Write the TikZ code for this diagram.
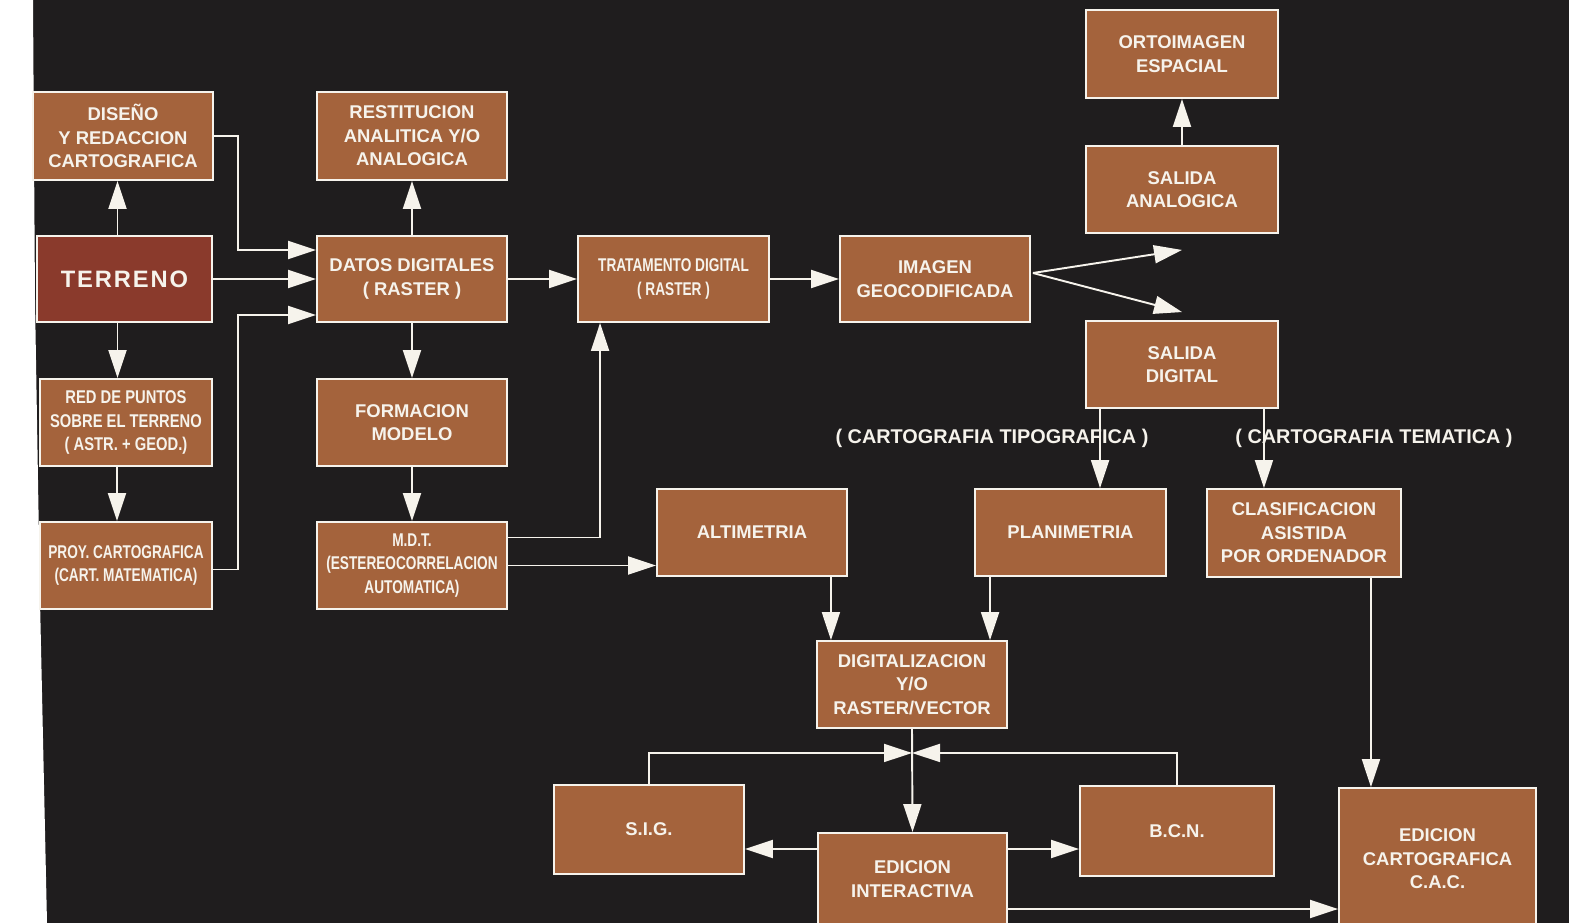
\documentclass[tikz,border=0pt]{standalone}
\usepackage{fontspec}
\setmainfont{Liberation Sans}
\newfontfamily\estrecha[FakeStretch=0.74]{Liberation Sans}
\newfontfamily\media[FakeStretch=0.80]{Liberation Sans}
\newfontfamily\ancha[LetterSpace=8]{Liberation Sans}
\usetikzlibrary{arrows.meta,calc}

\definecolor{fondo}{RGB}{31,29,30}
\definecolor{marron}{RGB}{164,99,60}
\definecolor{rojizo}{RGB}{138,58,44}
\definecolor{blanco}{RGB}{246,243,236}

\newcommand\letra{\bfseries\fontsize{10.5}{13.4}\selectfont}

\tikzset{
  caja/.style={rectangle,draw=blanco,line width=1.1pt,fill=marron,text=blanco,
    font=\letra,align=center,minimum width=3.8cm,minimum height=1.74cm,inner sep=1pt},
  flecha/.style={draw=blanco,line width=1.1pt,-{Triangle[length=0.56cm,width=0.36cm]}},
  nota/.style={text=blanco,font=\bfseries\fontsize{11.3}{13}\selectfont}
}

\begin{document}
\begin{tikzpicture}[x=0.02cm,y=-0.02cm]
\fill[fondo] (0,0) rectangle (1569,923);
\fill[white] (0,0) -- (33,0) -- (35,300) -- (40,600) -- (47,923) -- (0,923) -- cycle;
\useasboundingbox (0,0) rectangle (1569,923);

% columna izquierda
\node[caja,minimum width=3.6cm,minimum height=1.76cm] (dis) at (123,136) {DISEÑO\\Y REDACCION\\CARTOGRAFICA};
\node[caja,fill=rojizo,minimum width=3.5cm,minimum height=1.72cm,
  font=\ancha\bfseries\fontsize{13.5}{16}\selectfont] (ter) at (124.5,279) {TERRENO};
\node[caja,minimum width=3.44cm,font=\media\letra] (red) at (126,422.5) {RED DE PUNTOS\\SOBRE EL TERRENO\\( ASTR. + GEOD.)};
\node[caja,minimum width=3.44cm,font=\estrecha\letra] (proy) at (126,565.5) {PROY. CARTOGRAFICA\\(CART. MATEMATICA)};

% columna de datos
\node[caja,minimum height=1.76cm] (res) at (412,136) {RESTITUCION\\ANALITICA Y/O\\ANALOGICA};
\node[caja,minimum height=1.72cm] (dat) at (412,279) {DATOS DIGITALES\\( RASTER )};
\node[caja] (form) at (412,422.5) {FORMACION\\MODELO};
\node[caja,font=\estrecha\letra] (mdt) at (412,565.5) {M.D.T.\\(ESTEREOCORRELACION\\AUTOMATICA)};

\node[caja,minimum width=3.82cm,minimum height=1.72cm,font=\estrecha\letra] (trat) at (673.5,279) {TRATAMENTO DIGITAL\\( RASTER )};
\node[caja,minimum height=1.72cm] (img) at (935,279) {IMAGEN\\GEOCODIFICADA};

% salidas
\node[caja,minimum width=3.84cm,minimum height=1.76cm] (orto) at (1182,54) {ORTOIMAGEN\\ESPACIAL};
\node[caja,minimum width=3.84cm] (sana) at (1182,189.5) {SALIDA\\ANALOGICA};
\node[caja,minimum width=3.84cm] (sdig) at (1182,364.5) {SALIDA\\DIGITAL};

\node[caja] (alt) at (752,532.5) {ALTIMETRIA};
\node[caja,minimum width=3.82cm] (plan) at (1070.5,532.5) {PLANIMETRIA};
\node[caja,minimum width=3.88cm,minimum height=1.76cm] (clas) at (1304,533) {CLASIFICACION\\ASISTIDA\\POR ORDENADOR};

% parte baja
\node[caja] (digi) at (912,684.5) {DIGITALIZACION\\Y/O\\RASTER/VECTOR};
\node[caja,minimum height=1.78cm] (sig) at (649,829.5) {S.I.G.};
\node[caja,minimum width=3.78cm,minimum height=1.84cm] (edi) at (912.5,879) {EDICION\\INTERACTIVA};
\node[caja,minimum width=3.88cm,minimum height=1.8cm] (bcn) at (1177,831) {B.C.N.};
\node[caja,minimum width=3.94cm,minimum height=2.84cm] (cac) at (1437.5,859) {EDICION\\CARTOGRAFICA\\C.A.C.};

% flechas
\draw[flecha] ($(ter.north)+(-7,0)$) coordinate (t0) -- (t0 |- dis.south);
\draw[flecha] (dat.north) -- (res.south);
\draw[flecha] (dis.east) -- ++(24,0) |- ($(dat.west)+(0,-29)$);
\draw[flecha] (ter.east) -- (dat.west);
\draw[flecha] ($(proy.east)+(0,4)$) -- ++(25,0) |- ($(dat.west)+(0,36)$);
\draw[flecha] ($(ter.south)+(-7,0)$) coordinate (t1) -- (t1 |- red.north);
\draw[flecha] ($(red.south)+(-9,0)$) coordinate (t2) -- (t2 |- proy.north);
\draw[flecha] (dat.south) -- (form.north);
\draw[flecha] (form.south) -- (mdt.north);
\draw[flecha] (dat.east) -- (trat.west);
\draw[flecha] ($(mdt.east)+(0,-28)$) -| ($(trat.south west)+(23,0)$);
\draw[flecha] (mdt.east) -- (alt.west |- mdt.east);
\draw[flecha] (trat.east) -- (img.west);
\draw[flecha] ($(img.east)+(2,-6)$) -- ($(sana.south)+(0,16)$);
\draw[flecha] ($(img.east)+(2,-6)$) -- ($(sdig.north)+(0,-8)$);
\draw[flecha] (sana.north) -- (orto.south);
\draw[flecha] ($(sdig.south west)+(15,0)$) coordinate (s1) -- (s1 |- plan.north);
\draw[flecha] ($(sdig.south east)+(-15,0)$) coordinate (s2) -- (s2 |- clas.north);
\draw[flecha] ($(alt.south east)+(-17,0)$) coordinate (a1) -- (a1 |- digi.north);
\draw[flecha] ($(plan.south west)+(16,0)$) coordinate (p1) -- (p1 |- digi.north);
\draw[flecha] (digi.south) -- (edi.north);
\draw[flecha] (sig.north) |- ($(digi.south)+(0,24)$);
\draw[flecha] (bcn.north) |- ($(digi.south)+(0,24)$);
\draw[flecha] ($(edi.west)+(0,-30)$) coordinate (e1) -- (sig.east |- e1);
\draw[flecha] ($(edi.east)+(0,-30)$) coordinate (e2) -- (bcn.west |- e2);
\draw[flecha] ($(edi.east)+(0,30)$) coordinate (e3) -- (cac.west |- e3);
\draw[flecha] ($(clas.south east)+(-31,0)$) coordinate (c1) -- (c1 |- cac.north);

\node[nota] (tipo) at (992,438) {( CARTOGRAFIA TIPOGRAFICA )};
\node[nota] (tema) at (1374,438) {( CARTOGRAFIA TEMATICA )};
\end{tikzpicture}
\end{document}
